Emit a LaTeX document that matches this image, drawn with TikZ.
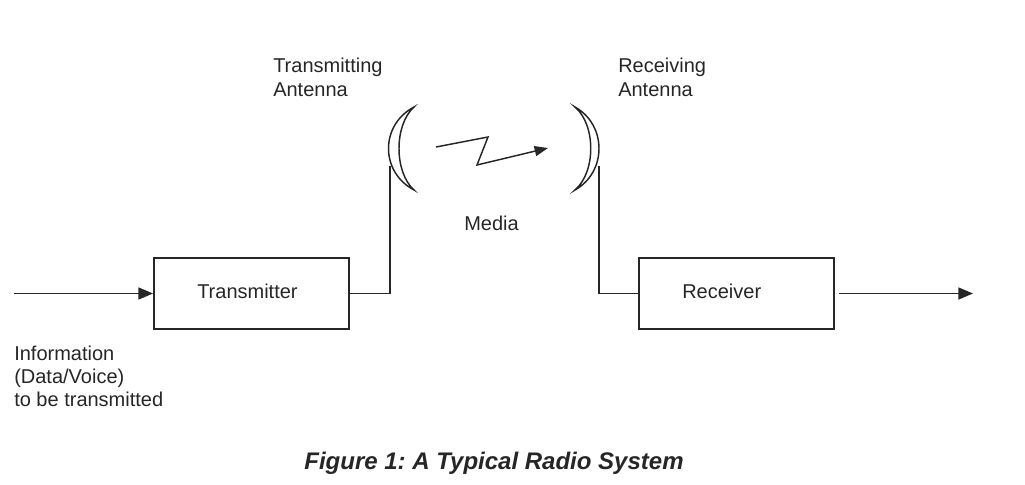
\documentclass[tikz,border=0pt]{standalone}
\usepackage{fontspec}
\setmainfont{Liberation Sans}
\usetikzlibrary{arrows.meta}
\frenchspacing
\begin{document}
\begin{tikzpicture}[x=0.75pt,y=-0.75pt,
  ln/.style={draw=black!85,line width=1.1pt},
  box/.style={draw=black!85,line width=1.4pt,minimum width=146.25pt,minimum height=53.25pt,inner sep=0pt},
  lbl/.style={anchor=base west,inner sep=0pt,font=\fontsize{15}{18}\selectfont,text=black!85},
  arr/.style={-{Triangle[length=11pt,width=9pt]}},
  sarr/.style={-{Triangle[length=10pt,width=7.5pt]}},
  ant/.style={draw=black!85,line width=1.1pt,fill=white}]
\useasboundingbox (0,0) rectangle (1025,485);
% boxes
\node[box] (tx) at (251.5,293.5) {};
\node[box] (rx) at (736.5,293.5) {};
\node[lbl] (txt) at (197,298) {Transmitter};
\node[lbl] (rxt) at (682,298) {Receiver};
% antennas
\draw[ant] (414,107) .. controls (380,125) and (380,172) .. (414,190)
  .. controls (394,172) and (394,125) .. (414,107) -- cycle;
\draw[ant] (575,107) .. controls (607,125) and (607,172) .. (575,190)
  .. controls (596,172) and (596,125) .. (575,107) -- cycle;
\coordinate (lant) at (390,166);
\coordinate (rant) at (599,166);
% connectors
\coordinate (in) at (14,293.5);
\coordinate (outs) at (839,293.5);
\coordinate (oute) at (973,293.5);
\draw[ln,arr] (in) -- (tx.west);
\draw[ln] (tx.east) -| (lant);
\draw[ln] (rant) |- (rx.west);
\draw[ln,arr] (outs) -- (oute);
% media zigzag
\coordinate (z0) at (436,147);
\coordinate (z1) at (488,137);
\coordinate (z2) at (477,165);
\coordinate (z3) at (548,148);
\draw[ln,sarr,line join=miter] (z0) -- (z1) -- (z2) -- (z3);
% labels
\node[lbl] (ta1) at (273,73) {Transmitting};
\node[lbl] (ta2) at (273,97) {Antenna};
\node[lbl] (ra1) at (618,73) {Receiving};
\node[lbl] (ra2) at (618,97) {Antenna};
\node[lbl] (med) at (464,230) {Media};
\node[lbl] (in1) at (14,360) {Information};
\node[lbl] (in2) at (14,383) {(Data/Voice)};
\node[lbl] (in3) at (14,406) {to be transmitted};
\node[anchor=base,inner sep=0pt,font=\fontsize{18}{22}\selectfont\bfseries\itshape,text=black!85] (title) at (494,469) {Figure 1: A Typical Radio System};
\end{tikzpicture}
\end{document}
